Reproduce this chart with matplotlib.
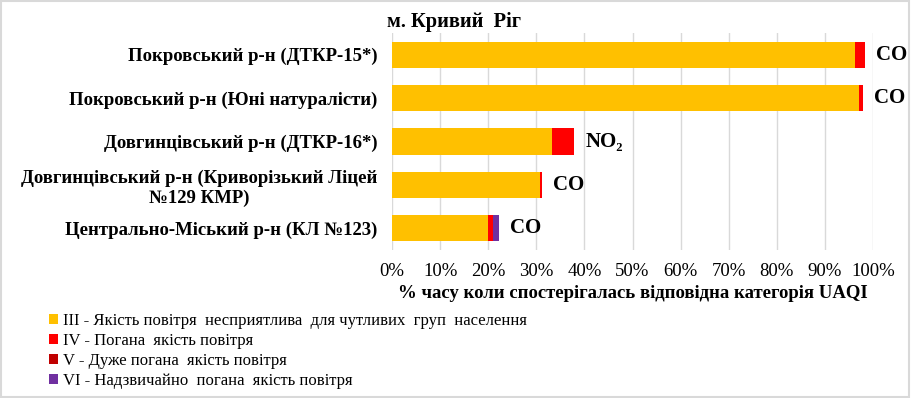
import matplotlib
matplotlib.use("Agg")
import matplotlib.pyplot as plt
from matplotlib.patches import Patch, Rectangle
from matplotlib.ticker import PercentFormatter

plt.rcParams['font.family'] = ['Liberation Serif', 'DejaVu Serif']

stations = [
    "Покровський р-н (ДТКР-15*)",
    "Покровський р-н (Юні натуралісти)",
    "Довгинцівський р-н (ДТКР-16*)",
    "Довгинцівський р-н (Криворізький Ліцей\n№129 КМР)",
    "Центрально-Міський р-н (КЛ №123)",
]
cat_III = [96.2, 97.1, 33.3, 30.8, 19.9]
cat_IV = [2.1, 0.8, 4.6, 0.3, 1.0]
cat_V = [0.0, 0.0, 0.0, 0.0, 0.0]
cat_VI = [0.0, 0.0, 0.0, 0.0, 1.4]
pollutants = ["CO", "CO", "NO₂", "CO", "CO"]

legend_labels = [
    "III - Якість повітря  несприятлива  для чутливих  груп  населення",
    "IV - Погана  якість повітря",
    "V - Дуже погана  якість повітря",
    "VI - Надзвичайно  погана  якість повітря",
]
colors = ["#FFC000", "#FF0000", "#C00000", "#7030A0"]

W, H = 911, 398
fig = plt.figure(figsize=(W / 100, H / 100), dpi=100)
ax = fig.add_axes([392 / W, 1 - 250 / H, (873 - 392) / W, (250 - 33) / H])

y = list(range(len(stations)))
left = [0.0] * len(stations)
for vals, col in zip([cat_III, cat_IV, cat_V, cat_VI], colors):
    ax.barh(y, vals, left=left, color=col, height=0.6, zorder=3)
    left = [l + v for l, v in zip(left, vals)]

for yi, tot, lab in zip(y, left, pollutants):
    ax.annotate(lab, xy=(tot, yi), xytext=(8, 0), textcoords="offset points",
                va="center", ha="left", fontsize=15, fontweight="bold",
                family=['Liberation Serif', 'DejaVu Serif'])

ax.set_xlim(0, 100)
ax.set_ylim(len(stations) - 0.5, -0.5)
ax.set_xticks(range(0, 101, 10))
ax.xaxis.set_major_formatter(PercentFormatter(decimals=0))
ax.set_yticks(y)
ax.set_yticklabels(stations, fontsize=13.5, fontweight="bold", multialignment="center")
ax.tick_params(axis="both", length=0)
ax.tick_params(axis="x", labelsize=13.5, pad=9.5)
ax.tick_params(axis="y", pad=10.5)
ax.grid(axis="x", color="#d9d9d9", linewidth=1, zorder=0)
for s in ax.spines.values():
    s.set_visible(False)
ax.set_xlabel("% часу коли спостерігалась відповідна категорія UAQI",
              fontsize=13.5, fontweight="bold")
ax.xaxis.set_label_coords(0.5, (250 - 293) / 217)
ax.xaxis.label.set_va("center")

fig.text(387 / W, 1 - 22 / H, "м. Кривий  Ріг", fontsize=14.7, fontweight="bold",
         ha="left", va="center")

handles = [Patch(facecolor=c, edgecolor="none") for c in colors]
fig.legend(handles, legend_labels, loc="upper left", bbox_to_anchor=(49 / W, 1 - 313 / H),
           frameon=False, fontsize=12, handlelength=0.55, handleheight=0.55,
           handletextpad=0.3, labelspacing=0.24, borderaxespad=0, borderpad=0)

fig.patches.append(Rectangle((0.001, 0.002), 0.997, 0.996, transform=fig.transFigure,
                             fill=False, edgecolor="#d9d9d9", linewidth=1.5))

fig.savefig("out.png", dpi=100)
